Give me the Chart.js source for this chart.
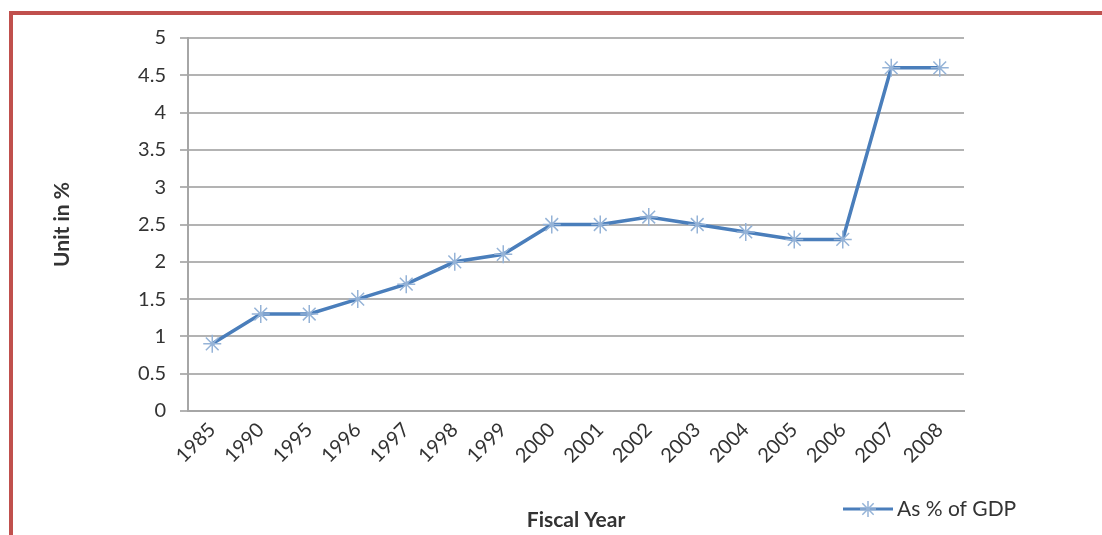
<!DOCTYPE html>
<html>
<head>
<meta charset="utf-8">
<script src="https://cdn.jsdelivr.net/npm/chart.js@4"></script>
<style>
    body { margin: 0; background: #fff; }
    #wrap { position: relative; width: 1102px; height: 535px; }
    #frame { position: absolute; left: 9px; top: 11px; right: 0; bottom: 0;
        border-top: 4px solid #c0504d; border-left: 4px solid #c0504d; }
    #myChart { position: absolute; left: 0; top: 0; }
</style>
</head>
<body>
<div id="wrap">
    <div id="frame"></div>
    <canvas id="myChart" width="1102" height="535"></canvas>
</div>
<script>
const years = ['1985', '1990', '1995', '1996', '1997', '1998', '1999', '2000',
    '2001', '2002', '2003', '2004', '2005', '2006', '2007', '2008'];
const gdpShare = [0.9, 1.3, 1.3, 1.5, 1.7, 2.0, 2.1, 2.5, 2.5, 2.6, 2.5, 2.4, 2.3, 2.3, 4.6, 4.6];
const seriesName = 'As % of GDP';
const xTitle = 'Fiscal Year';
const yTitle = 'Unit in %';

const FONT = 'Lato, "Noto Sans", sans-serif';
const TEXT = '#333333';
const LINE = '#4a7ebb';
const MARK = '#95b3d7';

// legend drawn by hand so it sits at the bottom right like the original
const legendPlugin = {
    id: 'sideLegend',
    afterDraw(chart) {
        const ctx = chart.ctx;
        const y = 509;
        ctx.save();
        ctx.strokeStyle = LINE;
        ctx.lineWidth = 3;
        ctx.beginPath();
        ctx.moveTo(843, y);
        ctx.lineTo(893, y);
        ctx.stroke();
        ctx.strokeStyle = MARK;
        ctx.fillStyle = MARK;
        ctx.lineWidth = 1.5;
        Chart.helpers.drawPoint(ctx, { pointStyle: 'star', radius: 8, borderWidth: 1.5 }, 868, y);
        ctx.fillStyle = TEXT;
        ctx.font = '21px ' + FONT;
        ctx.textBaseline = 'middle';
        ctx.fillText(chart.data.datasets[0].label, 897, y);
        ctx.restore();
    }
};

new Chart(document.getElementById('myChart'), {
    type: 'line',
    data: {
        labels: years,
        datasets: [{
            label: seriesName,
            data: gdpShare,
            borderColor: LINE,
            borderWidth: 3.5,
            tension: 0,
            pointStyle: 'star',
            pointRadius: 9,
            pointBorderColor: MARK,
            pointBackgroundColor: MARK,
            pointBorderWidth: 1.5
        }]
    },
    options: {
        responsive: false,
        animation: false,
        layout: { padding: { left: 50, right: 138, top: 38, bottom: 2 } },
        plugins: {
            legend: { display: false },
            tooltip: { enabled: false }
        },
        scales: {
            x: {
                offset: true,
                grid: { display: false, drawTicks: false },
                border: { color: '#a6a6a6', width: 2 },
                ticks: {
                    color: TEXT,
                    font: { family: FONT, size: 20 },
                    minRotation: 45,
                    maxRotation: 45,
                    padding: 7
                },
                title: {
                    display: true,
                    text: xTitle,
                    color: TEXT,
                    font: { family: FONT, size: 21, weight: 'bold' },
                    padding: { top: 0, bottom: 0 }
                },
                afterFit(scale) { scale.height = 122; }
            },
            y: {
                min: 0,
                max: 5,
                grid: { color: '#b3b3b3', lineWidth: 2, tickLength: 8 },
                border: { color: '#a6a6a6', width: 2 },
                ticks: {
                    stepSize: 0.5,
                    color: TEXT,
                    font: { family: FONT, size: 20 },
                    padding: 14,
                    callback: v => String(Math.round(v * 10) / 10)
                },
                title: {
                    display: true,
                    text: yTitle,
                    color: TEXT,
                    font: { family: FONT, size: 21, weight: 'bold' },
                    padding: 0
                },
                afterFit(scale) { scale.width = 138; }
            }
        }
    },
    plugins: [legendPlugin]
});
</script>
</body>
</html>
